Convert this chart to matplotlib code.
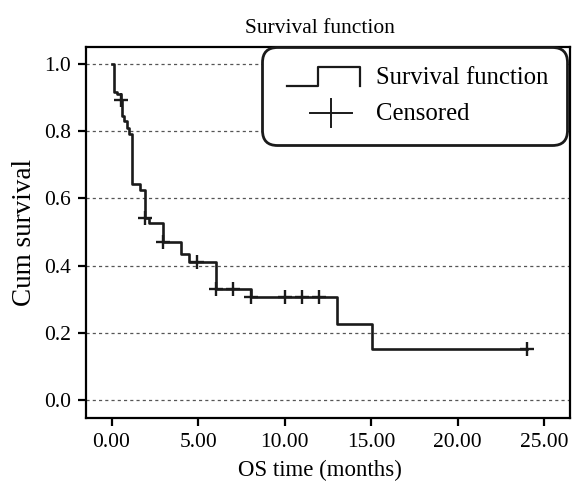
import numpy as np
import matplotlib
matplotlib.use("Agg")
import matplotlib.pyplot as plt
from matplotlib.lines import Line2D
from matplotlib.legend_handler import HandlerBase

plt.rcParams["font.family"] = ["Liberation Serif", "DejaVu Serif"]

# step times and survival after each drop
event_t = [0.13, 0.29, 0.52, 0.58, 0.71, 0.87, 1.02, 1.16, 1.64, 1.92, 2.17,
           2.98, 3.99, 4.47, 6.01, 8.03, 13.0, 15.06]
surv_after = [0.918, 0.911, 0.892, 0.844, 0.829, 0.809, 0.792, 0.643, 0.626,
              0.541, 0.526, 0.470, 0.435, 0.412, 0.330, 0.305, 0.226, 0.152]
last_t = 24.0
censor_t = [0.55, 1.93, 2.99, 4.95, 6.02, 7.0, 8.04, 10.0, 11.0, 12.0, 24.0]

x_ticks = [0, 5, 10, 15, 20, 25]
y_ticks = [0.0, 0.2, 0.4, 0.6, 0.8, 1.0]

xs = np.array([0.0] + event_t + [last_t])
ys = np.array([1.0] + surv_after + [surv_after[-1]])
idx = np.searchsorted(xs, censor_t, side="right") - 1
censor_s = ys[idx]

FS = 15.5
LEG_FS = 17.8


class StepHandler(HandlerBase):
    def create_artists(self, legend, orig, xd, yd, w, h, fs, trans):
        x0 = xd + 0.077 * w
        ww = w * (1 - 0.077)
        x = [x0, x0 + 0.43 * ww, x0 + 0.43 * ww, x0 + ww, x0 + ww]
        y = [yd - 0.1 * h, yd - 0.1 * h, yd + 1.0 * h, yd + 1.0 * h, yd - 0.1 * h]
        ln = Line2D(x, y, color="#1a1a1a", lw=1.6, transform=trans)
        return [ln]


class CrossHandler(HandlerBase):
    def create_artists(self, legend, orig, xd, yd, w, h, fs, trans):
        cx = xd + 0.64 * w
        cy = yd + 0.4 * h
        l1 = Line2D([xd + 0.37 * w, xd + 0.91 * w], [cy, cy], color="#1a1a1a",
                    lw=1.4, transform=trans)
        l2 = Line2D([cx, cx], [cy - 0.8 * h, cy + 0.8 * h], color="#1a1a1a",
                    lw=1.4, transform=trans)
        return [l1, l2]


fig = plt.figure(figsize=(5.73, 4.92), dpi=100)
ax = fig.add_axes([0.150, 0.150, 0.845, 0.754])

for yv in y_ticks:
    ax.axhline(yv, color="#555555", lw=0.9, ls=(0, (2.5, 2.5)), zorder=1)

ax.step(xs, ys, where="post", color="#1a1a1a", lw=1.9, zorder=3)
ax.plot(censor_t, censor_s, ls="none", marker="+", color="#1a1a1a",
        ms=10, mew=1.7, zorder=4)

ax.set_xlim(-1.48, 26.5)
ax.set_ylim(-0.0545, 1.05)
ax.set_xticks(x_ticks)
ax.set_xticklabels([f"{v:.2f}" for v in x_ticks])
ax.set_yticks(y_ticks)
ax.set_yticklabels([f"{v:.1f}" for v in y_ticks])
ax.tick_params(direction="out", length=6, width=1.6, labelsize=FS, pad=5)
for s in ax.spines.values():
    s.set_linewidth(1.6)

ax.set_title("Survival function", fontsize=FS, pad=10, x=0.483)
ax.set_xlabel("OS time (months)", fontsize=16.5, labelpad=5, x=0.483)
ax.set_ylabel("Cum survival", fontsize=19.5, labelpad=5)

h1 = Line2D([], [], color="black")
h2 = Line2D([], [], color="black")
leg = ax.legend([h1, h2], ["Survival function", "Censored"],
                handler_map={h1: StepHandler(), h2: CrossHandler()},
                loc="upper right", bbox_to_anchor=(0.994, 1.0),
                borderaxespad=0, fontsize=LEG_FS, handlelength=3.16,
                handletextpad=0.65, labelspacing=0.57, borderpad=0.78,
                fancybox=True, framealpha=1, edgecolor="#1a1a1a")
leg.get_frame().set_linewidth(2.0)
leg.get_frame().set_boxstyle("round", pad=0.0, rounding_size=0.6)
leg.set_zorder(5)

fig.savefig("out.png", dpi=100)
